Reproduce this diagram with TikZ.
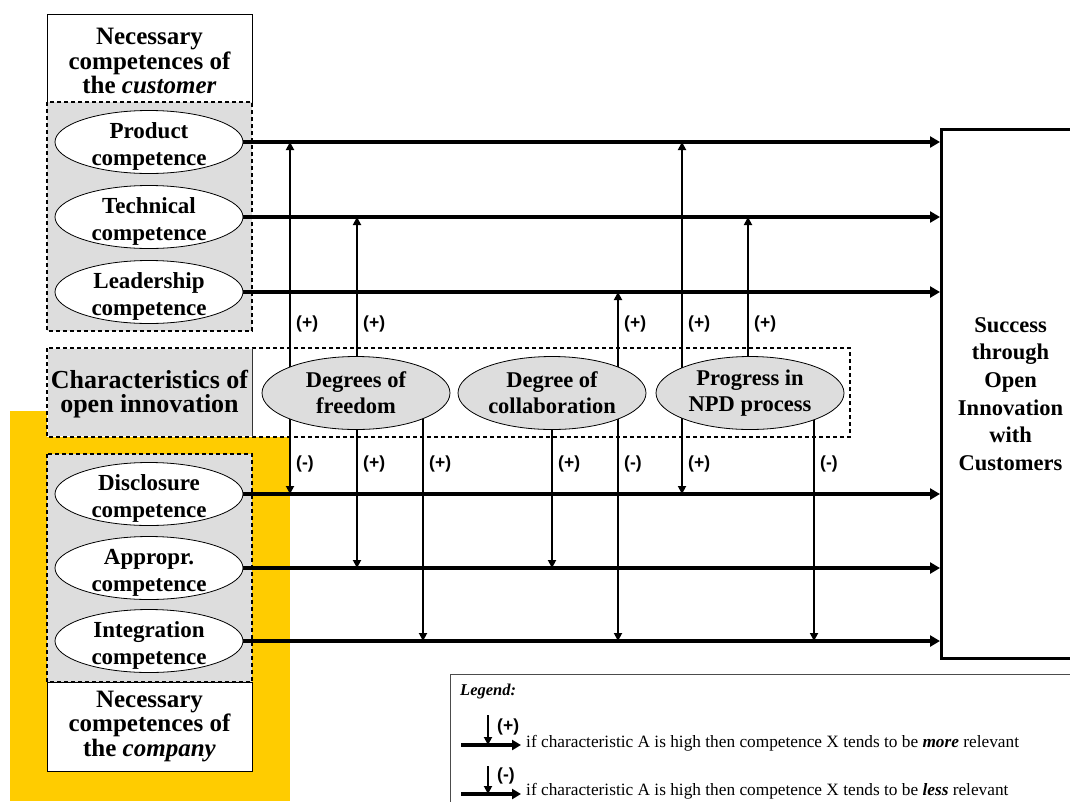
\documentclass[tikz,border=0pt]{standalone}
\usepackage{fontspec}
\setmainfont{Liberation Serif}
\newfontfamily\signfont{Liberation Sans}
\usetikzlibrary{arrows.meta,shapes.geometric}
\definecolor{boxgray}{HTML}{DDDDDD}
\definecolor{oiyellow}{HTML}{FFCC00}
\pgfdeclarelayer{bg}
\pgfdeclarelayer{wires}
\pgfsetlayers{bg,wires,main}
% taller first line so the two text lines sit a little low in the ellipse
\newcommand{\lowstrut}{\rule{0pt}{24pt}}

\begin{document}
\begin{tikzpicture}[x=1pt,y=-1pt,
  compell/.style={ellipse, draw, line width=0.8pt, fill=white,
    minimum width=188pt, minimum height=63pt, inner xsep=0pt, inner ysep=-6.5pt,
    align=center, font=\fontsize{23}{27}\selectfont\bfseries},
  charell/.style={ellipse, draw, line width=0.8pt, fill=boxgray,
    minimum width=188pt, minimum height=73pt, inner sep=0pt,
    align=center, font=\fontsize{22.5}{26}\selectfont\bfseries},
  hdr/.style={align=center, inner sep=0pt, font=\fontsize{25}{24.5}\selectfont\bfseries},
  sign/.style={anchor=west, inner sep=0pt, font=\signfont\fontsize{17.5}{17.5}\selectfont\bfseries},
  mainarr/.style={line width=4pt, -{Triangle[length=10pt,width=11pt]}},
  sigarr/.style={line width=1.8pt, -{Triangle[length=8pt,width=8pt]}},
  dashbox/.style={draw, line width=1.2pt, dash pattern=on 4pt off 3pt},
  solidbox/.style={draw, line width=1pt}
]
\useasboundingbox (0,0) rectangle (1070,801);

% ---------- background panels ----------
\begin{pgfonlayer}{bg}
  \fill[oiyellow] (10,411) rectangle (290,801);
  % customer side
  \draw[solidbox, fill=white] (47,14) rectangle (252,102);
  \draw[dashbox, fill=boxgray] (47,102) rectangle (252,331);
  % characteristics strip
  \draw[dashbox, fill=white] (47,348) rectangle (850,437);
  \fill[boxgray] (47.6,348.6) rectangle (252,436.4);
  \draw[line width=1pt, black!80] (252,348) -- (252,437);
  % company side
  \draw[dashbox, fill=boxgray] (47,454) rectangle (252,682);
  \draw[solidbox, fill=white] (47,682) rectangle (252,771);
  % legend frame
  \draw[line width=1pt, black!70, fill=white] (450,674) rectangle (1080,810);
\end{pgfonlayer}

% ---------- headings ----------
\node[hdr] (custhdr) at (149.5,61) {Necessary\\competences of\\the \textit{customer}};
\node[hdr] (comphdr) at (149.5,726) {Necessary\\competences of\\the \textit{company}};
\node[hdr, font=\fontsize{26}{24}\selectfont\bfseries] (charhdr) at (149.5,394)
  {Characteristics of\\open innovation};

% ---------- competences ----------
\node[compell] (prod)  at (149,142) {\lowstrut Product\\competence};
\node[compell] (tech)  at (149,217) {\lowstrut Technical\\competence};
\node[compell] (lead)  at (149,292) {\lowstrut Leadership\\competence};
\node[compell] (disc)  at (149,494) {\lowstrut Disclosure\\competence};
\node[compell] (appr)  at (149,568) {\lowstrut Appropr.\\competence};
\node[compell] (integ) at (149,641) {\lowstrut Integration\\competence};

% ---------- characteristics ----------
\node[charell] (dof)  at (356,393) {Degrees of\\freedom};
\node[charell] (coll) at (552,393) {Degree of\\collaboration};
\node[charell] (npd)  at (750,393) {Progress in\\NPD process};

% ---------- outcome ----------
\node[draw, line width=3pt, minimum width=138pt, minimum height=529pt, anchor=north west,
  align=center, inner sep=0pt, font=\fontsize{22.5}{27.6}\selectfont\bfseries]
  (succ) at (940,128) {Success\\through\\Open\\Innovation\\with\\Customers};

% ---------- column positions of the influence arrows ----------
\coordinate (k1) at (290,0);
\coordinate (k2) at (357,0);
\coordinate (k3) at (423,0);
\coordinate (k4) at (552,0);
\coordinate (k5) at (618,0);
\coordinate (k6) at (682,0);
\coordinate (k7) at (748,0);
\coordinate (k8) at (814,0);

\begin{pgfonlayer}{wires}
  % competences feed into success
  \foreach \c in {prod,tech,lead,disc,appr,integ}
    \draw[mainarr] (\c.east) -- (\c.east -| succ.west);
  % influence of the characteristics on the competences
  \draw[sigarr] (k1 |- dof.center)  -- (k1 |- prod.east);
  \draw[sigarr] (k1 |- dof.center)  -- (k1 |- disc.east);
  \draw[sigarr] (k2 |- dof.center)  -- (k2 |- tech.east);
  \draw[sigarr] (k2 |- dof.center)  -- (k2 |- appr.east);
  \draw[sigarr] (k3 |- dof.center)  -- (k3 |- integ.east);
  \draw[sigarr] (k4 |- coll.center) -- (k4 |- appr.east);
  \draw[sigarr] (k5 |- coll.center) -- (k5 |- lead.east);
  \draw[sigarr] (k5 |- coll.center) -- (k5 |- integ.east);
  \draw[sigarr] (k6 |- npd.center)  -- (k6 |- prod.east);
  \draw[sigarr] (k6 |- npd.center)  -- (k6 |- disc.east);
  \draw[sigarr] (k7 |- npd.center)  -- (k7 |- tech.east);
  \draw[sigarr] (k8 |- npd.center)  -- (k8 |- integ.east);
\end{pgfonlayer}

% ---------- signs ----------
\node[sign] (u1) at ([xshift=6pt]k1 |- 0,324) {(+)};
\node[sign] (u2) at ([xshift=6pt]k2 |- 0,324) {(+)};
\node[sign] (u5) at ([xshift=6pt]k5 |- 0,324) {(+)};
\node[sign] (u6) at ([xshift=6pt]k6 |- 0,324) {(+)};
\node[sign] (u7) at ([xshift=6pt]k7 |- 0,324) {(+)};
\node[sign] (d1) at ([xshift=6pt]k1 |- 0,464) {(-)};
\node[sign] (d2) at ([xshift=6pt]k2 |- 0,464) {(+)};
\node[sign] (d3) at ([xshift=6pt]k3 |- 0,464) {(+)};
\node[sign] (d4) at ([xshift=6pt]k4 |- 0,464) {(+)};
\node[sign] (d5) at ([xshift=6pt]k5 |- 0,464) {(-)};
\node[sign] (d6) at ([xshift=6pt]k6 |- 0,464) {(+)};
\node[sign] (d8) at ([xshift=6pt]k8 |- 0,464) {(-)};

% ---------- legend ----------
\node[anchor=base west, inner sep=0pt, font=\fontsize{16.5}{16.5}\selectfont\bfseries\itshape]
  (leghdr) at (460,695) {Legend:};
\coordinate (la1) at (461,745);
\coordinate (lb1) at (521,745);
\coordinate (lv1) at (488,715);
\coordinate (la2) at (461,794);
\coordinate (lb2) at (521,794);
\coordinate (lv2) at (488,766);
\draw[line width=4pt, -{Triangle[length=9pt,width=10pt]}] (la1) -- (lb1);
\draw[sigarr] (lv1) -- (lv1 |- la1);
\draw[line width=4pt, -{Triangle[length=9pt,width=10pt]}] (la2) -- (lb2);
\draw[sigarr] (lv2) -- (lv2 |- la2);
\node[sign] (lp) at (497,727) {(+)};
\node[sign] (lm) at (497,776) {(-)};
\node[anchor=base west, inner sep=0pt, font=\fontsize{17.3}{17.3}\selectfont] (lt1) at (526,747)
  {if characteristic A is high then competence X tends to be \textbf{\textit{more}} relevant};
\node[anchor=base west, inner sep=0pt, font=\fontsize{17.3}{17.3}\selectfont] (lt2) at (526,795)
  {if characteristic A is high then competence X tends to be \textbf{\textit{less}} relevant};
\end{tikzpicture}
\end{document}
